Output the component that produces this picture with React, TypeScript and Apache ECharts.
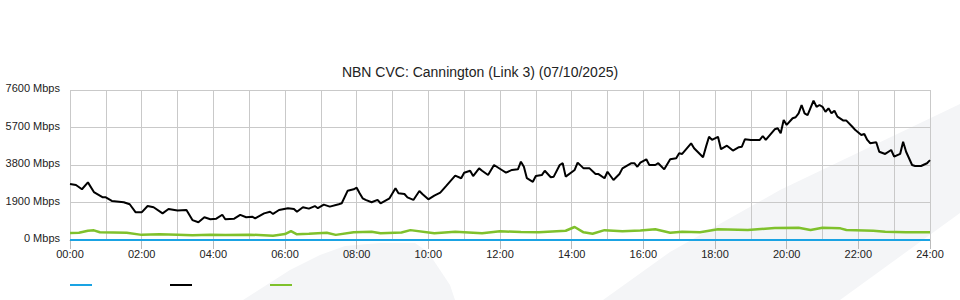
import React, { useEffect, useRef } from "react";
import * as echarts from "echarts";

const TITLE = "NBN CVC: Cannington (Link 3) (07/10/2025)";

const yTicks = [0, 1900, 3800, 5700, 7600];

// minutes after midnight / Mbps
const trafficTimes = [
  0, 10, 20, 30, 40, 55, 60, 70, 90, 100, 110, 120, 130, 140, 155, 165, 180, 195, 205, 215,
  225, 235, 245, 255, 260, 275, 285, 295, 305, 310, 325, 335, 340, 350, 365, 375, 380, 390, 400, 410,
  415, 425, 435, 450, 455, 465, 475, 480, 485, 490, 495, 505, 515, 520, 535, 545, 550, 560, 565, 575,
  585, 590, 600, 610, 620, 630, 645, 655, 660, 670, 675, 685, 690, 700, 710, 725, 730, 740, 750, 755,
  760, 765, 775, 780, 790, 795, 805, 810, 820, 825, 830, 845, 850, 860, 870, 880, 885, 895, 900, 910,
  920, 925, 940, 945, 950, 955, 965, 970, 980, 985, 995, 1005, 1015, 1020, 1025, 1040, 1045, 1060, 1065, 1070,
  1075, 1085, 1090, 1100, 1110, 1120, 1125, 1130, 1140, 1155, 1160, 1165, 1180, 1185, 1190, 1195, 1200, 1210, 1215, 1220,
  1225, 1230, 1235, 1245, 1250, 1255, 1260, 1265, 1270, 1275, 1280, 1285, 1295, 1300, 1310, 1315, 1325, 1330, 1335, 1340,
  1350, 1355, 1365, 1375, 1380, 1390, 1395, 1400, 1410, 1415, 1425, 1435, 1440,
];
const trafficValues = [
  2840, 2790, 2570, 2920, 2430, 2160, 2160, 1980, 1910, 1810, 1400, 1400, 1720, 1660, 1350, 1570, 1490, 1520, 1010, 900,
  1150, 1050, 1080, 1280, 1050, 1080, 1270, 1150, 1180, 1100, 1350, 1430, 1320, 1520, 1610, 1570, 1430, 1660, 1590, 1720,
  1610, 1790, 1690, 1810, 1860, 2500, 2570, 2650, 2370, 2110, 2030, 1910, 2030, 1860, 2110, 2620, 2370, 2330, 2160, 2030,
  2480, 2330, 2060, 2250, 2400, 2740, 3260, 3130, 3410, 3510, 3240, 3630, 3510, 3290, 3800, 3510, 3410, 3550, 3580, 3970,
  3710, 3130, 2950, 3240, 3290, 3510, 3180, 3210, 3800, 3890, 3210, 3550, 3920, 3630, 3630, 3340, 3340, 3130, 3460, 3040,
  3340, 3630, 3890, 3890, 3710, 3920, 4090, 3800, 3800, 3890, 3580, 4090, 4140, 4390, 4360, 4900, 4650, 4190, 4730, 5230,
  5070, 5230, 4600, 4780, 4530, 4700, 4730, 5100, 5070, 5070, 5270, 5070, 5610, 5660, 5410, 6080, 5830, 6170, 6220, 6420,
  6840, 6420, 6330, 7060, 6750, 6840, 6750, 6500, 6670, 6420, 6550, 6250, 6050, 6050, 5740, 5570, 5320, 5370, 5070, 4900,
  4950, 4470, 4360, 4560, 4220, 4360, 4980, 4470, 3800, 3750, 3750, 3890, 4050,
];

const otherTimes = [
  0, 15, 30, 40, 50, 95, 120, 150, 180, 205, 235, 260, 300, 340, 360, 370, 380, 400, 430, 445,
  475, 505, 520, 555, 570, 610, 645, 690, 720, 755, 785, 830, 845, 860, 875, 895, 925, 955, 980, 1005,
  1025, 1055, 1085, 1135, 1180, 1220, 1240, 1260, 1290, 1300, 1345, 1365, 1400, 1440,
];
const otherValues = [
  360, 370, 470, 490, 390, 370, 260, 290, 270, 240, 270, 250, 270, 220, 300, 450, 290, 320, 370, 260,
  390, 420, 340, 380, 500, 340, 420, 340, 440, 400, 390, 470, 660, 390, 320, 500, 440, 480, 540, 370,
  420, 390, 540, 510, 610, 620, 510, 625, 590, 510, 470, 420, 390, 390,
];

const baseTimes = [0, 120, 240, 360, 480, 600, 720, 840, 960, 1080, 1200, 1320, 1440];
const baseValues = [0, 0, 0, 0, 0, 0, 0, 0, 0, 0, 0, 0, 0];

const BLUE = "#1aa3e3";
const BLACK = "#000000";
const GREEN = "#7fc12c";
const GRID = "#c9c9c9";
const FONT = "'Liberation Sans', Arial, Helvetica, sans-serif";

const zip = (t: number[], v: number[]) => t.map((x, i) => [x, v[i]]);
const pad = (n: number) => (n < 10 ? "0" + n : "" + n);

export default function App() {
  const ref = useRef<HTMLDivElement>(null);

  useEffect(() => {
    if (!ref.current) return;
    const chart = echarts.init(ref.current, undefined, { renderer: "svg" });
    chart.setOption({
      animation: false,
      backgroundColor: "#ffffff",
      textStyle: { fontFamily: FONT },
      title: {
        text: TITLE,
        left: "center",
        top: 60,
        textStyle: { fontSize: 14, fontWeight: "normal", color: "#222", fontFamily: FONT },
      },
      graphic: [
        {
          type: "polygon",
          z: -10,
          silent: true,
          shape: {
            points: [
              [603, 300],
              [670, 252],
              [780, 190],
              [960, 104],
              [960, 213],
              [840, 300],
            ],
          },
          style: { fill: "#f4f5f7" },
        },
        {
          type: "polygon",
          z: -10,
          silent: true,
          shape: {
            points: [
              [243, 300],
              [290, 270],
              [320, 255],
              [345, 246],
              [380, 243],
              [415, 243],
              [428, 252],
              [450, 285],
              [455, 300],
            ],
          },
          style: { fill: "#f4f5f7" },
        },
      ],
      legend: {
        left: 70,
        top: 284,
        padding: 0,
        icon: "rect",
        itemWidth: 22,
        itemHeight: 2,
        itemGap: 78,
        formatter: () => "",
        textStyle: { fontSize: 11 },
        selectedMode: false,
        data: ["Series 1", "Series 2", "Series 3"],
      },
      grid: { left: 70, right: 30, top: 90, bottom: 60, containLabel: false },
      xAxis: {
        type: "value",
        min: 0,
        max: 1440,
        interval: 120,
        axisLine: { show: true, lineStyle: { color: "#bbb" } },
        axisTick: { show: true, length: 9, lineStyle: { color: "#bbb" } },
        minorTick: { show: false, splitNumber: 2 },
        minorSplitLine: { show: true, lineStyle: { color: GRID, width: 1 } },
        splitLine: { show: true, lineStyle: { color: GRID, width: 1 } },
        axisLabel: {
          color: "#222",
          fontSize: 11,
          fontFamily: FONT,
          margin: 8,
          formatter: (v: number) => pad(Math.round(v / 60)) + ":00",
        },
      },
      yAxis: {
        type: "value",
        min: yTicks[0],
        max: yTicks[yTicks.length - 1],
        interval: yTicks[1] - yTicks[0],
        axisLine: { show: false },
        axisTick: { show: false },
        splitLine: { show: true, lineStyle: { color: GRID, width: 1 } },
        axisLabel: {
          color: "#222",
          fontSize: 11,
          fontFamily: FONT,
          margin: 10,
          verticalAlign: "bottom",
          lineHeight: 4,
          formatter: (v: number) => v + " Mbps",
        },
      },
      series: [
        {
          name: "Series 1",
          type: "line",
          color: BLUE,
          data: zip(baseTimes, baseValues),
          showSymbol: false,
          lineStyle: { color: BLUE, width: 2 },
          z: 5,
        },
        {
          name: "Series 2",
          type: "line",
          color: BLACK,
          data: zip(trafficTimes, trafficValues),
          showSymbol: false,
          lineStyle: { color: BLACK, width: 2 },
          z: 4,
        },
        {
          name: "Series 3",
          type: "line",
          color: GREEN,
          data: zip(otherTimes, otherValues),
          showSymbol: false,
          lineStyle: { color: GREEN, width: 2.5 },
          z: 3,
        },
      ],
    });
    return () => chart.dispose();
  }, []);

  return (
    <div
      ref={ref}
      style={{ position: "absolute", left: 0, top: 0, width: 960, height: 300 }}
    />
  );
}
